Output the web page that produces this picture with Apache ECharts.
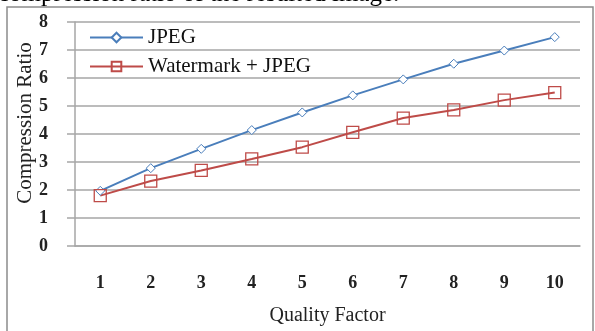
<!DOCTYPE html>
<html>
<head>
<meta charset="utf-8">
<script src="https://cdn.jsdelivr.net/npm/echarts@6/dist/echarts.min.js"></script>
<style>html,body{margin:0;padding:0;background:#fff}#c{width:595px;height:331px}</style>
</head>
<body>
<div id="c"></div>
<script>
var categories = ['1','2','3','4','5','6','7','8','9','10'];
var jpeg = [1.97, 2.78, 3.47, 4.14, 4.77, 5.38, 5.95, 6.51, 6.98, 7.46];
var watermarkJpeg = [1.8, 2.32, 2.7, 3.11, 3.53, 4.06, 4.57, 4.86, 5.21, 5.48];
var seriesNames = ['JPEG', 'Watermark + JPEG'];
var xTitle = 'Quality Factor';
var yTitle = 'Compression Ratio';
var captionText = 'compression ratio of the resulted image.';

var serif = '"Liberation Serif", "DejaVu Serif", serif';
var chart = echarts.init(document.getElementById('c'));
chart.setOption({
  animation: false,
  backgroundColor: '#fff',
  grid: { left: 75, right: 15, top: 22, bottom: 83 },
  legend: {
    orient: 'vertical', left: 84, top: 22, itemWidth: 53, itemHeight: 12, itemGap: 8,
    textStyle: { fontFamily: serif, fontSize: 21, color: '#111' },
    data: seriesNames
  },
  xAxis: {
    type: 'category', data: categories, boundaryGap: true,
    axisLine: { lineStyle: { color: '#a6a6a6', width: 1.5 } },
    axisTick: { show: false },
    axisLabel: { margin: 28, fontFamily: serif, fontSize: 18, fontWeight: 'bold', color: '#222' },
    name: xTitle, nameLocation: 'middle', nameGap: 60,
    nameTextStyle: { fontFamily: serif, fontSize: 20, color: '#222' }
  },
  yAxis: {
    type: 'value', min: 0, max: 8, interval: 1,
    axisLine: { show: true, lineStyle: { color: '#a6a6a6', width: 1.5 } },
    axisTick: { show: true, length: 8, lineStyle: { color: '#a6a6a6', width: 1.5 } },
    splitLine: { lineStyle: { color: '#a6a6a6', width: 1.5 } },
    axisLabel: { margin: 27, fontFamily: serif, fontSize: 18, fontWeight: 'bold', color: '#222' }
  },
  graphic: [
    { type: 'rect', shape: { x: 7, y: 7, width: 586, height: 340 }, style: { fill: 'none', stroke: '#8c8c8c', lineWidth: 1.5 }, z: -1 },
    { type: 'text', x: 25, y: 123, rotation: Math.PI / 2,
      style: { text: yTitle, font: '21px ' + serif, fill: '#222', textAlign: 'center', textVerticalAlign: 'middle' } },
    { type: 'text', x: -2, y: 7,
      style: { text: captionText, font: '25px ' + serif, fill: '#000', textAlign: 'left', textVerticalAlign: 'bottom' } }
  ],
  series: [
    { name: seriesNames[0], type: 'line', data: jpeg,
      symbol: 'diamond', symbolSize: 9, showAllSymbol: true,
      lineStyle: { color: '#4a7ebb', width: 2 },
      itemStyle: { color: '#fff', borderColor: '#4a7ebb', borderWidth: 1 } },
    { name: seriesNames[1], type: 'line', data: watermarkJpeg,
      symbol: 'rect', symbolSize: 12, showAllSymbol: true,
      lineStyle: { color: '#be4b48', width: 2 },
      itemStyle: { color: 'rgba(255,255,255,0)', borderColor: '#be4b48', borderWidth: 1.3 } }
  ]
});
</script>
</body>
</html>
